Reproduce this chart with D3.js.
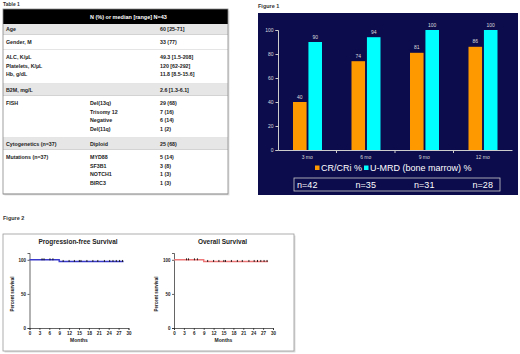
<!DOCTYPE html>
<html>
<head>
<meta charset="utf-8">
<script src="https://cdn.jsdelivr.net/npm/d3@7"></script>
<style>
  body { margin: 0; background: #fff; }
  text { font-family: "Liberation Sans", Arial, sans-serif; }
</style>
</head>
<body>
<div id="chart"></div>
<script>
// ---- Table 1 data ----
var tableTitle = "Table 1";
var tableHead = "N (%) or median [range] N=43";
var groupShaded = [true, false, false, true, false, true, false];
var groupItemLabels = [
  ["Age"], ["Gender, M"],
  ["ALC, K/\u00b5L", "Platelets, K/\u00b5L", "Hb, g/dL"],
  ["B2M, mg/L"],
  ["FISH", "", "", ""],
  ["Cytogenetics (n=37)"],
  ["Mutations (n=37)", "", "", ""]
];
var groupSubs = [
  [""], [""],
  ["", "", ""],
  [""],
  ["Del(13q)", "Trisomy 12", "Negative", "Del(11q)"],
  ["Diploid"],
  ["MYD88", "SF3B1", "NOTCH1", "BIRC3"]
];
var groupValues = [
  ["60 [25-71]"], ["33 (77)"],
  ["49.3 [1.5-208]", "120 [62-292]", "11.8 [8.5-15.6]"],
  ["2.6 [1.3-6.1]"],
  ["29 (68)", "7 (16)", "6 (14)", "1 (2)"],
  ["25 (68)"],
  ["5 (14)", "3 (8)", "1 (3)", "1 (3)"]
];

// ---- Figure 1 data ----
var months = ["3 mo", "6 mo", "9 mo", "12 mo"];
var crRate = [40, 74, 81, 86];
var umrdRate = [90, 94, 100, 100];
var nPatients = ["n=42", "n=35", "n=31", "n=28"];
var seriesNames = ["CR/CRi %", "U-MRD (bone marrow) %"];
var seriesColors = ["#ff9900", "#00ffff"];

// ---- Figure 2 data (Kaplan-Meier steps, censor marks) ----
var pfsTime = [0, 9, 28.5];
var pfsSurv = [100, 97.6, 97.6];
var pfsCensor = [3.8, 4.4, 6.2, 7.1, 10.2, 12, 13.6, 15.1, 15.6, 17.4, 19.2, 20.7, 22.7, 24.3, 25.3, 26.3, 27.3, 28.2];
var osTime = [0, 9, 28.5];
var osSurv = [100, 97.6, 97.6];
var osCensor = [3.8, 4.4, 6.2, 7.1, 10.2, 12, 13.6, 15.1, 15.6, 17.4, 19.2, 20.7, 22.7, 24.3, 25.3, 26.3, 27.3, 28.2];
var monthTicks = [0, 3, 6, 9, 12, 15, 18, 21, 24, 27, 30];
var survTicks = [0, 50, 100];

var svg = d3.select("#chart").append("svg")
    .attr("width", 520)
    .attr("height", 354);

// ================= TABLE 1 =================
var tbl = {left: 3, right: 228, top: 9, headH: 15, rowH: 8.5, firstRow: 7.5};
// band heights of each row group
var groupHeights = [11, 15, 34, 12, 42, 12, 44];

svg.append("text")
    .attr("x", 3).attr("y", 6)
    .style("font-size", "5px").style("font-weight", "bold").attr("fill", "#333")
    .text(tableTitle);

var tblH = tbl.headH + d3.sum(groupHeights);
// shadow
svg.append("rect")
    .attr("x", tbl.left + 1.5).attr("y", tbl.top + 1.5)
    .attr("width", tbl.right - tbl.left).attr("height", tblH)
    .attr("fill", "#e4e4e4");
var tblG = svg.append("g");

tblG.append("rect")
    .attr("x", tbl.left).attr("y", tbl.top)
    .attr("width", tbl.right - tbl.left).attr("height", tbl.headH)
    .attr("fill", "#000");
tblG.append("text")
    .attr("x", 90).attr("y", tbl.top + tbl.headH / 2 + 2)
    .attr("fill", "#fff").style("font-size", "5.5px").style("font-weight", "bold")
    .text(tableHead);

var yy = tbl.top + tbl.headH;
groupValues.forEach(function(vals, gi) {
  var h = groupHeights[gi];
  tblG.append("rect")
      .attr("x", tbl.left).attr("y", yy)
      .attr("width", tbl.right - tbl.left).attr("height", h)
      .attr("fill", groupShaded[gi] ? "#e6e6e6" : "#fff");
  vals.forEach(function(v, i) {
    var cy = vals.length == 1 ? yy + h / 2 : yy + tbl.firstRow + tbl.rowH * i;
    var cells = [[6, groupItemLabels[gi][i]], [90, groupSubs[gi][i]], [160, v]];
    cells.forEach(function(c) {
      tblG.append("text")
          .attr("x", c[0]).attr("y", cy + 1.9)
          .attr("fill", "#222").style("font-size", "5.3px").style("font-weight", "bold")
          .text(c[1]);
    });
  });
  yy += h;
  tblG.append("line")
      .attr("x1", tbl.left).attr("x2", tbl.right)
      .attr("y1", yy).attr("y2", yy)
      .attr("stroke", "#aaa").attr("stroke-width", 0.6);
});
tblG.append("rect")
    .attr("x", tbl.left).attr("y", tbl.top)
    .attr("width", tbl.right - tbl.left).attr("height", yy - tbl.top)
    .attr("fill", "none").attr("stroke", "#888").attr("stroke-width", 0.8);

// ================= FIGURE 1 =================
svg.append("text")
    .attr("x", 258).attr("y", 8)
    .style("font-size", "5.5px").style("font-weight", "bold").attr("fill", "#333")
    .text("Figure 1");

svg.append("rect")
    .attr("x", 258).attr("y", 13)
    .attr("width", 260).attr("height", 182)
    .attr("fill", "#0c0c4c");

var x0 = d3.scaleBand().domain(months).range([278, 512]);
var x1 = d3.scaleBand().domain([0, 1]).range([15, 44]).paddingInner(0.12);
var y1 = d3.scaleLinear().domain([0, 100]).range([150, 30]);

var yAxis1 = svg.append("g")
    .attr("transform", "translate(278,0)")
    .call(d3.axisLeft(y1).tickValues([0, 20, 40, 60, 80, 100]).tickSize(2.5).tickPadding(2));
yAxis1.selectAll("path, line").attr("stroke", "#ccc");
yAxis1.selectAll("text").attr("fill", "#ddd").style("font-size", "5px");

var xAxis1 = svg.append("g")
    .attr("transform", "translate(0,150)")
    .call(d3.axisBottom(x0).tickSize(0).tickPadding(5));
xAxis1.select("path").attr("stroke", "#ccc");
xAxis1.selectAll("text").attr("fill", "#ddd").style("font-size", "5px");
// category separators
svg.selectAll(".sep")
    .data(months.slice(1))
    .enter().append("line")
    .attr("x1", function(d) { return x0(d); })
    .attr("x2", function(d) { return x0(d); })
    .attr("y1", 150).attr("y2", 153)
    .attr("stroke", "#ccc");

var barData = [];
months.forEach(function(m, i) {
  barData.push({m: m, s: 0, v: crRate[i]});
  barData.push({m: m, s: 1, v: umrdRate[i]});
});

svg.selectAll(".bar")
    .data(barData)
    .enter().append("rect")
    .attr("x", function(d) { return x0(d.m) + x1(d.s); })
    .attr("y", function(d) { return y1(d.v); })
    .attr("width", x1.bandwidth())
    .attr("height", function(d) { return y1(0) - y1(d.v); })
    .attr("fill", function(d) { return seriesColors[d.s]; });

svg.selectAll(".val")
    .data(barData)
    .enter().append("text")
    .attr("x", function(d) { return x0(d.m) + x1(d.s) + x1.bandwidth() / 2; })
    .attr("y", function(d) { return y1(d.v) - 3.5; })
    .attr("text-anchor", "middle")
    .attr("fill", "#ddd").style("font-size", "5px")
    .text(function(d) { return d.v; });

// legend
var leg = svg.append("g").attr("transform", "translate(315,170)");
leg.append("rect").attr("x", 0).attr("y", -4.5).attr("width", 4.5).attr("height", 4.5).attr("fill", seriesColors[0]);
leg.append("text").attr("x", 6).attr("y", 0.5).attr("fill", "#fff").style("font-size", "9px").text(seriesNames[0]);
leg.append("rect").attr("x", 49).attr("y", -4.5).attr("width", 4.5).attr("height", 4.5).attr("fill", seriesColors[1]);
leg.append("text").attr("x", 55).attr("y", 0.5).attr("fill", "#fff").style("font-size", "9px").text(seriesNames[1]);

// n= box
svg.append("rect")
    .attr("x", 294).attr("y", 178)
    .attr("width", 206).attr("height", 13)
    .attr("fill", "none").attr("stroke", "#ccc").attr("stroke-width", 0.8);
svg.selectAll(".nlab")
    .data(nPatients)
    .enter().append("text")
    .attr("x", function(d, i) { return x0(months[i]) + x0.bandwidth() / 2; })
    .attr("y", 188)
    .attr("text-anchor", "middle")
    .attr("fill", "#fff").style("font-size", "9px")
    .text(function(d) { return d; });

// ================= FIGURE 2 =================
svg.append("text")
    .attr("x", 3).attr("y", 220)
    .style("font-size", "5.5px").style("font-weight", "bold").attr("fill", "#333")
    .text("Figure 2");

svg.append("rect")
    .attr("x", 4.5).attr("y", 235.5)
    .attr("width", 291).attr("height", 117)
    .attr("fill", "#ddd");
svg.append("rect")
    .attr("x", 3).attr("y", 234)
    .attr("width", 291).attr("height", 117)
    .attr("fill", "#fff").attr("stroke", "#999").attr("stroke-width", 0.8);

function kmPlot(x0px, title, times, surv, censor, color) {
  var g = svg.append("g");
  var x = d3.scaleLinear().domain([0, 30]).range([x0px, x0px + 99]);
  var y = d3.scaleLinear().domain([0, 110]).range([328, 253]);

  g.append("text")
      .attr("x", x(15) - 1).attr("y", 244)
      .attr("text-anchor", "middle")
      .style("font-size", "6.5px").style("font-weight", "bold").attr("fill", "#222")
      .text(title);

  var ya = g.append("g")
      .attr("transform", "translate(" + x0px + ",0)")
      .call(d3.axisLeft(y).tickValues(survTicks).tickSize(2).tickPadding(1.5));
  ya.selectAll("text").style("font-size", "4.5px").style("font-weight", "bold").attr("fill", "#222");
  ya.selectAll("path, line").attr("stroke", "#222").attr("stroke-width", 0.7);

  var xa = g.append("g")
      .attr("transform", "translate(0,328)")
      .call(d3.axisBottom(x).tickValues(monthTicks).tickSize(2).tickPadding(1.5));
  xa.selectAll("text").style("font-size", "4.5px").style("font-weight", "bold").attr("fill", "#222");
  xa.selectAll("path, line").attr("stroke", "#222").attr("stroke-width", 0.7);

  g.append("text")
      .attr("transform", "translate(" + (x0px - 16) + ",294) rotate(-90)")
      .attr("text-anchor", "middle")
      .style("font-size", "4.5px").style("font-weight", "bold").attr("fill", "#222")
      .text("Percent survival");

  g.append("text")
      .attr("x", x(15)).attr("y", 342)
      .attr("text-anchor", "middle")
      .style("font-size", "5px").style("font-weight", "bold").attr("fill", "#222")
      .text("Months");

  var pts = times.map(function(t, i) { return [t, surv[i]]; });
  var line = d3.line()
      .x(function(d) { return x(d[0]); })
      .y(function(d) { return y(d[1]); })
      .curve(d3.curveStepAfter);
  g.append("path")
      .datum(pts)
      .attr("d", line)
      .attr("fill", "none")
      .attr("stroke", color)
      .attr("stroke-width", 1.4);

  function survAt(t) {
    var s = surv[0];
    times.forEach(function(tt, i) { if (t >= tt) s = surv[i]; });
    return s;
  }
  g.selectAll(".cens")
      .data(censor)
      .enter().append("line")
      .attr("x1", function(d) { return x(d); })
      .attr("x2", function(d) { return x(d); })
      .attr("y1", function(d) { return y(survAt(d)) - 1.5; })
      .attr("y2", function(d) { return y(survAt(d)) + 0.5; })
      .attr("stroke", "#111").attr("stroke-width", 0.9);
}

kmPlot(29.5, "Progression-free Survival", pfsTime, pfsSurv, pfsCensor, "#3a3acc");
kmPlot(174, "Overall Survival", osTime, osSurv, osCensor, "#ee7777");
</script>
</body>
</html>
